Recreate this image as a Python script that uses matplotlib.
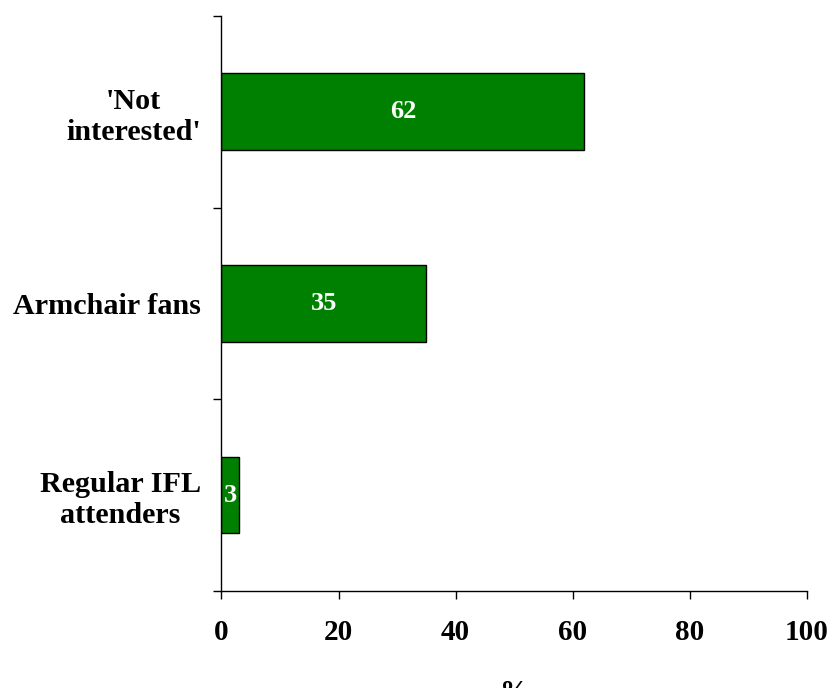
import matplotlib.pyplot as plt

# survey groups, bottom to top
groups = ["Regular IFL\nattenders", "Armchair fans", "'Not\ninterested'"]
pct = [3, 35, 62]
xticks = [0, 20, 40, 60, 80, 100]

plt.rcParams['font.family'] = ['Liberation Serif', 'DejaVu Serif']
plt.rcParams['font.weight'] = 'bold'

fig = plt.figure(figsize=(8.31, 6.88), dpi=100)
ax = fig.add_axes([0.2665, 0.141, 0.7046, 0.8358])

ypos = range(len(groups))
bars = ax.barh(ypos, pct, height=0.4, color="#008000", edgecolor="black", linewidth=1)

for b, v in zip(bars, pct):
    ax.text(b.get_x() + b.get_width() / 2, b.get_y() + b.get_height() / 2, str(v),
            ha="center", va="center", color="white", fontsize=19, fontweight="bold")

ax.set_xlim(0, 100)
ax.set_ylim(-0.5, len(groups) - 0.5)

# category ticks sit between bars, labels in the middle of each slot
ax.set_yticks([-0.5, 0.5, 1.5, 2.5])
ax.set_yticklabels([])
ax.set_yticks(list(ypos), minor=True)
ax.set_yticklabels(groups, minor=True, fontsize=21.7, fontweight="bold", multialignment="center")
ax.tick_params(axis="y", which="minor", length=0, pad=15)
ax.tick_params(axis="y", which="major", length=6, width=1, direction="out")

ax.set_xticks(xticks)
ax.set_xticklabels([str(t) for t in xticks], fontsize=21, fontweight="bold")
ax.tick_params(axis="x", length=6, width=1, direction="out", pad=14)
ax.set_xlabel("%", fontsize=21, fontweight="bold", labelpad=24)

for s in ["top", "right"]:
    ax.spines[s].set_visible(False)
for s in ["left", "bottom"]:
    ax.spines[s].set_linewidth(1)

fig.savefig("out.png", dpi=100)
